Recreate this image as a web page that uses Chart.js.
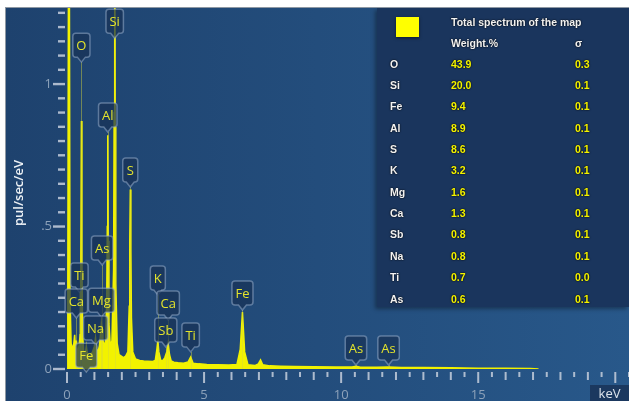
<!DOCTYPE html>
<html>
<head>
<meta charset="utf-8">
<script src="https://cdn.jsdelivr.net/npm/chart.js@4.4.1/dist/chart.umd.min.js"></script>
<style>
    body { margin: 0; background: #fff; width: 632px; height: 401px; overflow: hidden; position: relative; font-family: 'Open Sans', sans-serif; }
    #frame { position: absolute; left: 5px; top: 7px; width: 623px; height: 393px; border-top: 1px solid #8e98a3; border-left: 1px solid #8e98a3; background: linear-gradient(to right, #1e426e, #28588a); overflow: hidden; }
    #plot { position: absolute; left: 0; top: 0; }
    #ytitle { position: absolute; left: 12px; top: 185px; transform: translate(-50%, -50%) rotate(-90deg); color: #eef2f6; font-size: 13px; font-weight: 600; white-space: nowrap; }
    #unit { position: absolute; left: 584px; top: 377px; width: 39px; height: 16px; background: #1b385f; color: #dde4ec; font-size: 13px; line-height: 17px; text-align: center; }
    #panel { position: absolute; left: 371px; top: 0; width: 252px; height: 299px; background: #1a355d; box-shadow: -2px 2px 4px rgba(0,0,0,0.35); font-family: 'Liberation Sans', Arial, sans-serif; font-weight: bold; font-size: 10.5px; }
    #panel div { position: absolute; white-space: nowrap; line-height: 12px; text-shadow: 0 0 2px rgba(0,0,0,0.8), 0 0 1px rgba(0,0,0,0.8); }
    .swatch { width: 23px; height: 20px; background: #ffff00; left: 19px; top: 9px; box-shadow: 0 1px 3px rgba(0,0,0,0.5); }
    .w { color: #f2f2f2; }
    .y { color: #f4f400; }
</style>
</head>
<body>
<div id="frame">
    <canvas id="plot" width="623" height="393"></canvas>
    <div id="ytitle">pul/sec/eV</div>
    <div id="panel"></div>
    <div id="unit">keV</div>
</div>
<script>
// spectrum (keV / pul/sec/eV)
const energy = [0, 0.03, 0.07, 0.11, 0.15, 0.2, 0.25, 0.28, 0.31, 0.34, 0.38, 0.42, 0.45, 0.48, 0.505, 0.525, 0.545, 0.57, 0.61, 0.66,
    0.705, 0.75, 0.8, 0.86, 0.93, 1.0, 1.04, 1.08, 1.13, 1.18, 1.22, 1.254, 1.282, 1.31, 1.36, 1.41, 1.45, 1.47, 1.487, 1.505,
    1.53, 1.58, 1.64, 1.7, 1.72, 1.74, 1.76, 1.78, 1.83, 1.9, 1.98, 2.06, 2.14, 2.22, 2.27, 2.29, 2.31, 2.33, 2.35, 2.4,
    2.5, 2.65, 2.8, 2.95, 3.1, 3.22, 3.28, 3.313, 3.35, 3.42, 3.5, 3.57, 3.604, 3.64, 3.691, 3.74, 3.8, 3.9, 4.05, 4.25,
    4.42, 4.51, 4.6, 4.8, 5.1, 5.5, 5.9, 6.2, 6.32, 6.4, 6.48, 6.6, 6.85, 6.98, 7.06, 7.14, 7.4, 7.8, 8.3, 9.0,
    9.8, 10.4, 10.54, 10.7, 11.3, 11.73, 12.2, 13.0, 14.0, 15.0, 16.0, 16.9, 17.2];
const counts = [0, 0.3, 2.2, 0.25, 0.09, 0.07, 0.09, 0.12, 0.07, 0.10, 0.06, 0.07, 0.09, 0.12, 0.40, 0.87, 0.38, 0.12, 0.06, 0.05,
    0.08, 0.05, 0.04, 0.05, 0.06, 0.08, 0.11, 0.07, 0.06, 0.08, 0.12, 0.16, 0.14, 0.10, 0.08, 0.10, 0.25, 0.5, 0.82, 0.45,
    0.16, 0.08, 0.10, 0.35, 0.9, 1.7, 0.85, 0.30, 0.09, 0.05, 0.045, 0.04, 0.045, 0.06, 0.22, 0.45, 0.63, 0.42, 0.18, 0.06,
    0.035, 0.03, 0.028, 0.027, 0.026, 0.03, 0.07, 0.10, 0.06, 0.03, 0.03, 0.04, 0.05, 0.06, 0.09, 0.05, 0.028, 0.024, 0.022, 0.02,
    0.025, 0.042, 0.02, 0.018, 0.016, 0.015, 0.014, 0.016, 0.07, 0.20, 0.06, 0.015, 0.012, 0.018, 0.032, 0.015, 0.011, 0.010, 0.009, 0.008,
    0.007, 0.007, 0.010, 0.006, 0.006, 0.007, 0.005, 0.005, 0.004, 0.003, 0.003, 0.002, 0];

// peak tags: element, line energy, tip height
const tagNames = ['Si', 'O', 'Al', 'S', 'As', 'Ti', 'Ca', 'Mg', 'Na', 'Fe', 'K', 'Ca', 'Sb', 'Ti', 'Fe', 'As', 'As'];
const tagKeV = [1.74, 0.525, 1.487, 2.307, 1.282, 0.452, 0.341, 1.254, 1.041, 0.705, 3.313, 3.691, 3.604, 4.51, 6.4, 10.54, 11.73];
const tagTip = [1.161, 1.077, 0.832, 0.639, 0.365, 0.27, 0.179, 0.182, 0.084, -0.011, 0.26, 0.172, 0.077, 0.06, 0.207, 0.014, 0.014];

// quantification table
const tableEls = ['O', 'Si', 'Fe', 'Al', 'S', 'K', 'Mg', 'Ca', 'Sb', 'Na', 'Ti', 'As'];
const tableWt = ['43.9', '20.0', '9.4', '8.9', '8.6', '3.2', '1.6', '1.3', '0.8', '0.8', '0.7', '0.6'];
const tableSigma = ['0.3', '0.1', '0.1', '0.1', '0.1', '0.1', '0.1', '0.1', '0.1', '0.1', '0.0', '0.1'];

const panel = document.getElementById('panel');
let html = '<div class="swatch"></div>';
html += '<div class="w" style="left:74px;top:8px">Total spectrum of the map</div>';
html += '<div class="w" style="left:74px;top:29px">Weight.%</div>';
html += '<div class="w" style="left:198px;top:29px">σ</div>';
tableEls.forEach((el, i) => {
    const top = (49.5 + i * 21.36).toFixed(1);
    html += `<div class="w" style="left:13px;top:${top}px">${el}</div>`;
    html += `<div class="y" style="left:74px;top:${top}px">${tableWt[i]}</div>`;
    html += `<div class="y" style="left:198px;top:${top}px">${tableSigma[i]}</div>`;
});
panel.innerHTML = html;

// axis tick marks: long at labelled values
const tickMarks = {
    id: 'tickMarks',
    afterDraw(chart) {
        const { ctx, chartArea, scales: { x, y } } = chart;
        ctx.save();
        ctx.fillStyle = 'rgba(188,200,215,0.9)';
        for (let i = 0; i * 0.05 <= y.max; i++) {
            const py = y.getPixelForValue(i * 0.05);
            const len = i % 10 === 0 ? 12 : 7;
            ctx.fillRect(chartArea.left - 2 - len, py - 1.2, len, 2.4);
        }
        for (let i = 0; i * 0.5 <= x.max; i++) {
            const px = x.getPixelForValue(i * 0.5);
            const len = i % 10 === 0 ? 11 : (i % 2 === 0 ? 8 : 5);
            ctx.fillRect(px - 1, chartArea.bottom + 3, 2, len);
        }
        ctx.restore();
    }
};

// element callouts
const peakTags = {
    id: 'peakTags',
    afterDatasetsDraw(chart) {
        const { ctx, scales: { x, y } } = chart;
        ctx.save();
        ctx.font = '13px "Open Sans"';
        ctx.textAlign = 'center';
        ctx.textBaseline = 'middle';
        ctx.strokeStyle = 'rgba(215,215,60,0.45)';
        ctx.lineWidth = 1;
        tagNames.forEach((name, i) => {
            const px = Math.round(x.getPixelForValue(tagKeV[i])) + 0.5;
            ctx.beginPath();
            ctx.moveTo(px, y.getPixelForValue(tagTip[i]));
            ctx.lineTo(px, y.getPixelForValue(0));
            ctx.stroke();
        });
        tagNames.forEach((name, i) => {
            const px = x.getPixelForValue(tagKeV[i]);
            const tip = y.getPixelForValue(tagTip[i]);
            const w = Math.max(15, ctx.measureText(name).width + 7);
            const h = 24, rad = 3;
            const b = tip - 5, top = b - h, l = px - w / 2, r = px + w / 2;
            ctx.beginPath();
            ctx.moveTo(l + rad, top);
            ctx.lineTo(r - rad, top);
            ctx.arcTo(r, top, r, top + rad, rad);
            ctx.lineTo(r, b - rad);
            ctx.arcTo(r, b, r - rad, b, rad);
            ctx.lineTo(px + 4, b);
            ctx.lineTo(px, tip);
            ctx.lineTo(px - 4, b);
            ctx.lineTo(l + rad, b);
            ctx.arcTo(l, b, l, b - rad, rad);
            ctx.lineTo(l, top + rad);
            ctx.arcTo(l, top, l + rad, top, rad);
            ctx.closePath();
            ctx.fillStyle = 'rgba(24,50,86,0.72)';
            ctx.fill();
            ctx.strokeStyle = 'rgba(150,172,200,0.55)';
            ctx.lineWidth = 1.5;
            ctx.stroke();
            ctx.fillStyle = '#e4e42c';
            ctx.fillText(name, px, top + h / 2 + 1);
        });
        ctx.restore();
    }
};

const near = (a, b) => Math.abs(a - b) < 1e-6;

new Chart(document.getElementById('plot').getContext('2d'), {
    type: 'line',
    data: {
        datasets: [{
            data: energy.map((e, i) => ({ x: e, y: counts[i] })),
            borderColor: '#f2f200',
            backgroundColor: '#f2f200',
            borderWidth: 1.5,
            pointRadius: 0,
            fill: 'origin',
            tension: 0
        }]
    },
    options: {
        responsive: false,
        animation: false,
        devicePixelRatio: 1,
        layout: { padding: 0 },
        plugins: { legend: { display: false }, tooltip: { enabled: false } },
        scales: {
            x: {
                type: 'linear', min: 0, max: 20.5,
                grid: { display: false, drawTicks: false },
                border: { display: false },
                ticks: {
                    stepSize: 0.5, autoSkip: false, maxRotation: 0, includeBounds: false, padding: 18,
                    color: '#8da2ba', font: { family: 'Open Sans', size: 13 },
                    callback: v => (near(v / 5, Math.round(v / 5)) && v < 20) ? String(Math.round(v)) : null
                },
                afterFit: s => { s.height = 32; s.paddingLeft = 0; s.paddingRight = 0; }
            },
            y: {
                type: 'linear', min: 0, max: 1.267,
                grid: { display: false, drawTicks: false },
                border: { display: false },
                ticks: {
                    stepSize: 0.05, autoSkip: false, includeBounds: false, padding: 15,
                    color: '#8da2ba', font: { family: 'Open Sans', size: 13 },
                    callback: v => near(v, 1) ? '1' : near(v, 0.5) ? '.5' : near(v, 0) ? '0' : null
                },
                afterFit: s => { s.width = 61; s.paddingTop = 0; s.paddingBottom = 0; }
            }
        }
    },
    plugins: [tickMarks, peakTags]
});
</script>
</body>
</html>
